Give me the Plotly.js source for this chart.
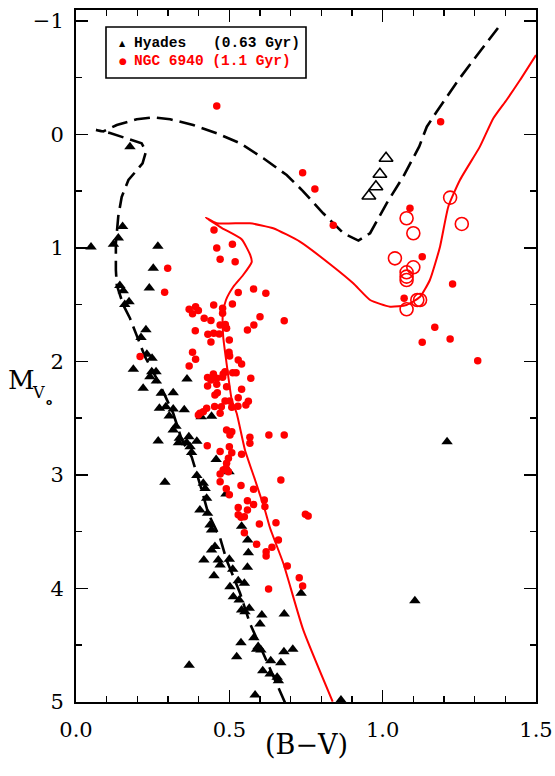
<!DOCTYPE html>
<html>
<head>
<meta charset="utf-8">
<script src="https://cdn.plot.ly/plotly-3.0.1.min.js"></script>
<style>
  html, body { margin: 0; padding: 0; background: #fff; }
  #chart { width: 555px; height: 776px; }
</style>
</head>
<body>
<div id="chart"></div>
<script>
// ---- Hyades (0.63 Gyr): filled triangles ----
const hyadesBV = [0.176,0.152,0.138,0.049,0.122,0.267,0.252,0.239,0.143,0.154,
  0.173,0.159,0.228,0.212,0.231,0.248,0.187,0.247,0.261,0.241,
  0.262,0.362,0.219,0.278,0.317,0.272,0.293,0.317,0.353,0.304,
  0.408,0.442,0.326,0.317,0.268,0.337,0.368,0.394,0.334,0.361,
  0.372,0.377,0.457,0.499,0.394,0.415,0.290,0.421,0.426,0.489,
  0.404,0.429,0.437,0.442,0.540,0.560,0.453,0.442,0.562,0.417,
  0.464,0.470,0.500,0.559,0.511,0.450,0.502,0.529,0.549,0.513,
  0.532,0.540,0.551,0.565,0.606,0.600,0.679,0.538,0.580,0.589,
  0.603,0.594,0.678,0.707,0.524,0.635,0.668,0.369,0.609,0.633,
  0.656,0.660,0.584,0.864,0.734,1.210,1.105];
const hyadesMV = [0.109,0.812,0.913,0.993,0.968,0.987,1.180,1.354,1.332,1.378,
  1.475,1.500,1.722,1.790,1.938,1.974,2.070,2.092,2.092,2.136,
  2.174,2.156,2.238,2.282,2.277,2.414,2.400,2.420,2.426,2.482,
  2.488,2.485,2.573,2.605,2.702,2.678,2.664,2.705,2.717,2.717,
  2.752,2.804,2.865,2.973,3.006,3.075,3.066,3.121,3.207,3.169,
  3.310,3.339,3.442,3.486,3.454,3.574,3.633,3.663,3.686,3.751,
  3.751,3.795,3.744,3.815,3.833,3.889,3.986,3.933,3.956,4.074,
  4.103,4.191,4.206,4.176,4.235,4.315,4.226,4.479,4.435,4.537,
  4.544,4.514,4.559,4.537,4.603,4.638,4.656,4.678,4.726,4.755,
  4.784,4.814,4.940,4.984,4.044,2.710,4.110];

// ---- Hyades giants: open triangles ----
const hyadesGiantBV = [1.011,0.991,0.978,0.955];
const hyadesGiantMV = [0.211,0.352,0.462,0.544];

// ---- NGC 6940 (1.1 Gyr): filled circles ----
const ngcBV = [0.459,0.739,0.779,0.839,1.189,1.089,1.129,1.228,1.070,1.170,
  1.129,1.220,1.310,0.450,0.459,0.510,0.470,0.519,0.299,0.289,
  0.529,0.579,0.619,0.209,
  0.369,0.390,0.399,0.380,0.449,0.478,0.510,0.478,0.418,0.440,
  0.600,0.679,0.580,0.559,0.470,0.487,0.491,0.389,0.430,0.449,
  0.467,0.440,0.500,0.380,0.499,0.501,0.390,0.529,0.540,0.369,
  0.486,0.511,0.522,0.570,0.429,0.448,0.440,0.459,0.478,0.480,
  0.429,0.459,0.491,0.540,0.453,0.461,0.529,0.486,0.501,0.562,
  0.554,0.452,0.474,0.508,0.528,0.426,0.415,0.404,0.399,0.470,
  0.491,0.502,0.508,0.567,0.567,0.629,0.679,0.428,0.500,0.470,
  0.508,0.540,0.497,0.491,0.489,0.480,0.470,0.497,0.470,0.668,
  0.538,0.579,0.490,0.500,0.559,0.579,0.614,0.616,0.529,0.559,
  0.529,0.538,0.549,0.598,0.652,0.748,0.757,0.549,0.660,0.589,
  0.639,0.620,0.620,0.689,0.728,0.739,0.628];
const ngcMV = [-0.249,0.338,0.482,0.802,-0.111,0.652,1.078,1.319,1.445,1.700,
  1.833,1.804,1.995,0.843,1.002,0.969,1.100,1.122,1.181,1.392,
  1.394,1.363,1.401,1.959,
  1.541,1.519,1.552,1.581,1.504,1.533,1.495,1.577,1.621,1.641,
  1.607,1.642,1.680,1.724,1.680,1.676,1.709,1.730,1.761,1.753,
  1.759,1.830,1.812,1.921,1.921,1.953,1.982,1.989,2.024,2.041,
  2.092,2.100,2.100,2.150,2.144,2.112,2.165,2.150,2.141,2.112,
  2.218,2.203,2.224,2.247,2.297,2.277,2.321,2.350,2.350,2.352,
  2.385,2.398,2.400,2.405,2.396,2.414,2.444,2.458,2.473,2.458,
  2.605,2.649,2.620,2.670,2.722,2.649,2.649,2.744,2.752,2.796,
  2.805,2.819,2.855,2.899,2.943,2.958,2.993,2.973,3.061,3.046,
  3.094,3.127,3.123,3.175,3.228,3.262,3.222,3.281,3.288,3.310,
  3.352,3.374,3.369,3.434,3.422,3.348,3.363,3.510,3.574,3.612,
  3.639,3.678,3.715,3.804,3.907,3.980,4.006];

// ---- NGC 6940 giants: open circles ----
const ngcGiantBV = [1.220,1.258,1.078,1.100,1.040,1.100,1.078,1.078,1.078,1.113,1.122,1.078];
const ngcGiantMV = [0.558,0.790,0.740,0.872,1.093,1.172,1.216,1.254,1.284,1.460,1.460,1.542];

// ---- Isochrone 0.63 Gyr (dashed, black) ----
const isoHyBV = [0.682,0.654,0.627,0.597,0.567,0.535,0.491,0.470,0.431,0.410,
  0.377,0.345,0.317,0.274,0.225,0.176,0.154,0.133,0.130,0.130,
  0.138,0.149,0.171,0.217,0.228,0.214,0.165,0.111,0.065,0.089,
  0.133,0.198,0.252,0.307,0.382,0.459,0.535,0.611,0.687,0.740,
  0.806,0.872,0.921,0.959,1.013,1.067,1.119,1.144,1.176,1.209,
  1.247,1.301,1.376];
const isoHyMV = [5.010,4.837,4.676,4.482,4.308,4.044,3.751,3.559,3.339,3.134,
  2.841,2.693,2.458,2.209,1.959,1.621,1.504,1.328,1.196,0.960,
  0.720,0.552,0.403,0.256,0.153,0.079,0.035,-0.011,-0.038,-0.025,
  -0.082,-0.132,-0.150,-0.132,-0.082,-0.009,0.079,0.211,0.359,0.500,
  0.696,0.872,0.937,0.872,0.608,0.374,0.109,-0.067,-0.199,-0.331,
  -0.478,-0.672,-0.937];

// ---- Isochrone 1.1 Gyr (solid, red) ----
const isoNgcBV = [0.837,0.741,0.676,0.633,0.616,0.584,0.551,0.524,0.508,0.491,
  0.480,0.479,0.489,0.513,0.545,0.573,0.568,0.540,0.476,0.423,
  0.459,0.567,0.643,0.730,0.839,0.904,0.959,1.024,1.078,1.122,
  1.154,1.187,1.214,1.252,1.317,1.361,1.404,1.448,1.500];
const isoNgcMV = [4.999,4.367,3.780,3.471,3.310,3.046,2.781,2.458,2.341,2.018,
  1.783,1.577,1.460,1.343,1.240,1.125,1.063,0.925,0.826,0.735,
  0.784,0.784,0.828,0.946,1.167,1.313,1.460,1.519,1.504,1.431,
  1.284,0.990,0.638,0.403,0.109,-0.141,-0.302,-0.478,-0.698];

// ---- Axis ticks / labels ----
const xTickVals = [0.0, 0.5, 1.0, 1.5];
const xTickText = ["0.0", "0.5", "1.0", "1.5"];
const yTickVals = [-1, 0, 1, 2, 3, 4, 5];
const legendLabels = ["Hyades", "(0.63 Gyr)", "NGC 6940 (1.1 Gyr)"];

const traces = [
  { x: isoHyBV, y: isoHyMV, type: 'scatter', mode: 'lines',
    line: { color: '#000', width: 2.6, dash: '16px,7px' }, hoverinfo: 'skip' },
  { x: isoNgcBV, y: isoNgcMV, type: 'scatter', mode: 'lines',
    line: { color: '#ff0000', width: 2, shape: 'spline', smoothing: 0.5 }, hoverinfo: 'skip' },
  { x: hyadesBV, y: hyadesMV, type: 'scatter', mode: 'markers', name: 'Hyades (0.63 Gyr)',
    marker: { symbol: 'triangle-up', size: 10, color: '#000' } },
  { x: hyadesGiantBV, y: hyadesGiantMV, type: 'scatter', mode: 'markers',
    marker: { symbol: 'triangle-up-open', size: 12, color: '#000', line: { width: 1.6, color: '#000' } } },
  { x: ngcBV, y: ngcMV, type: 'scatter', mode: 'markers', name: 'NGC 6940 (1.1 Gyr)',
    marker: { symbol: 'circle', size: 7.5, color: '#ff0000' } },
  { x: ngcGiantBV, y: ngcGiantMV, type: 'scatter', mode: 'markers',
    marker: { symbol: 'circle-open', size: 13, color: '#ff0000', line: { width: 1.6, color: '#ff0000' } } }
];

const axisCommon = {
  showgrid: false, zeroline: false,
  showline: true, linecolor: '#000', linewidth: 2, mirror: 'ticks',
  ticks: 'inside', ticklen: 12, tickwidth: 1.5, tickcolor: '#000',
  tickfont: { family: 'DejaVu Serif', size: 21, color: '#000' }
};

const legendFont = { family: 'Liberation Mono', size: 14.5 };

const layout = {
  width: 555, height: 776,
  margin: { l: 76, r: 19, t: 10, b: 74 },
  paper_bgcolor: '#fff', plot_bgcolor: '#fff',
  showlegend: false,
  xaxis: Object.assign({}, axisCommon, {
    range: [0, 1.5], tickvals: xTickVals, ticktext: xTickText,
    ticklabelstandoff: 8,
    minor: { dtick: 0.1, ticks: 'inside', ticklen: 6, tickwidth: 1.2, tickcolor: '#000' }
  }),
  yaxis: Object.assign({}, axisCommon, {
    range: [5.002, -1.095], tickvals: yTickVals,
    ticklabelstandoff: 6,
    minor: { dtick: 0.5, ticks: 'inside', ticklen: 6, tickwidth: 1.2, tickcolor: '#000' }
  }),
  shapes: [
    { type: 'rect', xref: 'paper', yref: 'paper', x0: 0.0652, x1: 0.5, y0: 0.9017, y1: 0.9754,
      line: { color: '#000', width: 1.6 }, fillcolor: 'rgba(0,0,0,0)' }
  ],
  annotations: [
    { xref: 'paper', yref: 'paper', x: 0.1015, y: 0.9523, text: '\u25B2', showarrow: false,
      xanchor: 'center', yanchor: 'middle', font: { family: 'DejaVu Sans', size: 8, color: '#000' } },
    { xref: 'paper', yref: 'paper', x: 0.1211, y: 0.9523, text: '<b>' + legendLabels[0] + '</b>', showarrow: false,
      xanchor: 'left', yanchor: 'middle', font: Object.assign({ color: '#000' }, legendFont) },
    { xref: 'paper', yref: 'paper', x: 0.2935, y: 0.9523, text: '<b>' + legendLabels[1] + '</b>', showarrow: false,
      xanchor: 'left', yanchor: 'middle', font: Object.assign({ color: '#000' }, legendFont) },
    { xref: 'paper', yref: 'paper', x: 0.1015, y: 0.9263, text: '\u25CF', showarrow: false,
      xanchor: 'center', yanchor: 'middle', font: { family: 'DejaVu Sans', size: 9, color: '#ff0000' } },
    { xref: 'paper', yref: 'paper', x: 0.1211, y: 0.9263, text: '<b>' + legendLabels[2] + '</b>', showarrow: false,
      xanchor: 'left', yanchor: 'middle', font: Object.assign({ color: '#ff0000' }, legendFont) },
    // x-axis title
    { xref: 'paper', yref: 'paper', x: 0.5, y: -0.062, text: '(B\u2212V)', showarrow: false,
      xanchor: 'center', yanchor: 'middle', font: { family: 'DejaVu Serif', size: 27, color: '#000' } },
    // y-axis title: M with subscript V with subscript o
    { xref: 'paper', yref: 'paper', x: -0.152, y: 0.466, text: 'M', showarrow: false,
      xanchor: 'left', yanchor: 'middle', font: { family: 'DejaVu Serif', size: 26, color: '#000' } },
    { xref: 'paper', yref: 'paper', x: -0.100, y: 0.447, text: 'V', showarrow: false,
      xanchor: 'left', yanchor: 'middle', font: { family: 'DejaVu Serif', size: 16, color: '#000' } },
    { xref: 'paper', yref: 'paper', x: -0.069, y: 0.434, text: '<b>o</b>', showarrow: false,
      xanchor: 'left', yanchor: 'middle', font: { family: 'DejaVu Sans', size: 9, color: '#000' } }
  ]
};

Plotly.newPlot('chart', traces, layout, { staticPlot: true, displayModeBar: false });
</script>
</body>
</html>
